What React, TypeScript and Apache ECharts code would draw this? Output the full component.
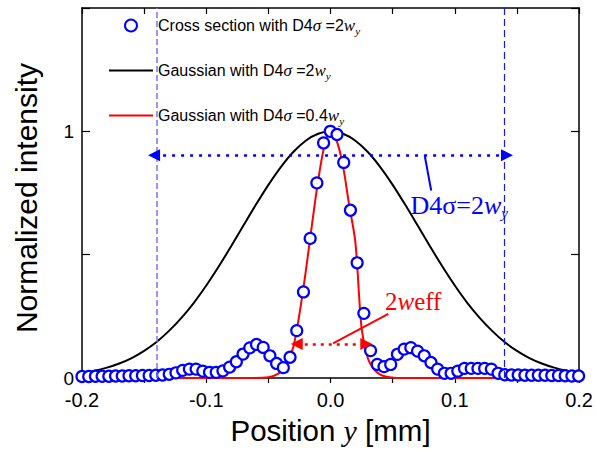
import React, { useEffect, useRef } from 'react';
import * as echarts from 'echarts';

// Measured cross section (blue circles)
const sampleX = [
  -0.2, -0.1946, -0.1892, -0.1838, -0.1784, -0.173, -0.1676, -0.1622, -0.1568, -0.1514,
  -0.146, -0.1406, -0.1352, -0.1298, -0.1244, -0.119, -0.1136, -0.1082, -0.1028, -0.0974,
  -0.092, -0.0866, -0.0812, -0.0758, -0.0704, -0.065, -0.0596, -0.0542, -0.0488, -0.0434,
  -0.038, -0.0326, -0.0272, -0.0218, -0.0164, -0.011, -0.0056, -0.0002, 0.0052, 0.0106,
  0.016, 0.0214, 0.0268, 0.0322, 0.0376, 0.043, 0.0484, 0.0538, 0.0592, 0.0646,
  0.07, 0.0754, 0.0808, 0.0862, 0.0916, 0.097, 0.1024, 0.1078, 0.1132, 0.1186,
  0.124, 0.1294, 0.1348, 0.1402, 0.1456, 0.151, 0.1564, 0.1618, 0.1672, 0.1726,
  0.178, 0.1834, 0.1888, 0.1942, 0.1996,
];
const sampleY = [
  0.006, 0.006, 0.007, 0.007, 0.007, 0.008, 0.008, 0.009, 0.009, 0.01,
  0.01, 0.011, 0.012, 0.015, 0.021, 0.031, 0.036, 0.036, 0.028, 0.023,
  0.023, 0.029, 0.044, 0.066, 0.097, 0.122, 0.136, 0.124, 0.09, 0.059,
  0.042, 0.084, 0.192, 0.349, 0.566, 0.791, 0.953, 1.0, 0.987, 0.874,
  0.68, 0.467, 0.262, 0.111, 0.055, 0.046, 0.055, 0.096, 0.117, 0.123,
  0.109, 0.09, 0.063, 0.036, 0.019, 0.019, 0.028, 0.039, 0.039, 0.039,
  0.039, 0.036, 0.019, 0.013, 0.012, 0.012, 0.011, 0.011, 0.011, 0.011,
  0.01, 0.01, 0.009, 0.008, 0.008,
];

// Gaussian with D4σ = 2w_y (black)
const wideX = [
  -0.2, -0.19, -0.18, -0.17, -0.16, -0.15, -0.14, -0.13, -0.12, -0.11,
  -0.1, -0.09, -0.08, -0.07, -0.06, -0.05, -0.04, -0.03, -0.02, -0.01,
  0, 0.01, 0.02, 0.03, 0.04, 0.05, 0.06, 0.07, 0.08, 0.09,
  0.1, 0.11, 0.12, 0.13, 0.14, 0.15, 0.16, 0.17, 0.18, 0.19, 0.2,
];
const wideY = [
  0.02, 0.029, 0.042, 0.059, 0.081, 0.11, 0.146, 0.191, 0.244, 0.305,
  0.375, 0.452, 0.534, 0.619, 0.703, 0.783, 0.855, 0.916, 0.962, 0.99,
  1.0, 0.99, 0.962, 0.916, 0.855, 0.783, 0.703, 0.619, 0.534, 0.452,
  0.375, 0.305, 0.244, 0.191, 0.146, 0.11, 0.081, 0.059, 0.042, 0.029, 0.02,
];

// Gaussian with D4σ = 0.4w_y (red)
const narrowX = [
  -0.2, -0.07, -0.055, -0.05, -0.045, -0.04, -0.035, -0.03, -0.025, -0.02,
  -0.015, -0.01, -0.005, 0, 0.005, 0.01, 0.015, 0.02, 0.025, 0.03,
  0.035, 0.04, 0.045, 0.05, 0.055, 0.07, 0.2,
];
const narrowY = [
  0, 0, 0.001, 0.003, 0.01, 0.025, 0.06, 0.125, 0.26, 0.43,
  0.62, 0.8, 0.94, 1.0, 0.96, 0.86, 0.7, 0.55, 0.2, 0.08,
  0.035, 0.014, 0.005, 0.002, 0, 0, 0,
];

const xTickLabels = ['-0.2', '-0.1', '0.0', '0.1', '0.2'];
const yTickLabels = ['0', '1'];

const NAME_SAMPLE = 'Cross section with D4σ=2wy';
const NAME_WIDE = 'Gaussian with D4σ=2wy';
const NAME_NARROW = 'Gaussian with D4σ=0.4wy';

const legendRich: Record<string, string> = {
  [NAME_SAMPLE]: '{n|Cross section with D4}{s|σ}{n| =2}{w|w}{y|y}',
  [NAME_WIDE]: '{n|Gaussian with D4}{s|σ}{n| =2}{w|w}{y|y}',
  [NAME_NARROW]: '{n|Gaussian with D4}{s|σ}{n| =0.4}{w|w}{y|y}',
};

const SANS = 'Liberation Sans, Arial, sans-serif';
const SERIF = 'Liberation Serif, Times New Roman, serif';
const LINE_ICON = 'path://M0,0 L48,0 L48,2 L0,2 Z';

const zip = (xs: number[], ys: number[]) => xs.map((x, i) => [x, ys[i]]);

export default function App() {
  const ref = useRef<HTMLDivElement>(null);
  useEffect(() => {
    document.body.style.margin = '0';
    if (!ref.current) return;
    const chart = echarts.init(ref.current, undefined, { renderer: 'svg' });
    const blue = '#0000ff';
    const red = '#ff0000';
    const arrowBlue = { color: blue, width: 2.5, type: [3, 6] as any };
    const arrowRed = { color: red, width: 2.5, type: [3, 5] as any };
    chart.setOption({
      animation: false,
      backgroundColor: '#ffffff',
      grid: { left: 82, right: 14, top: 8, bottom: 72 },
      legend: {
        left: 104,
        top: 12,
        orient: 'vertical',
        itemWidth: 44,
        itemHeight: 12,
        itemGap: 26,
        symbolKeepAspect: true,
        data: [
          { name: NAME_SAMPLE },
          { name: NAME_WIDE, icon: LINE_ICON },
          { name: NAME_NARROW, icon: LINE_ICON },
        ],
        formatter: (name: string) => legendRich[name] || name,
        textStyle: {
          fontSize: 16,
          fontFamily: SANS,
          color: '#000',
          rich: {
            n: { fontSize: 16, fontFamily: SANS, color: '#000' },
            s: { fontSize: 17, fontFamily: SERIF, fontStyle: 'italic', color: '#000' },
            w: { fontSize: 17, fontFamily: SERIF, fontStyle: 'italic', color: '#000' },
            y: { fontSize: 11, fontFamily: SERIF, fontStyle: 'italic', color: '#000', padding: [10, 0, 0, 0] },
          },
        },
      },
      xAxis: [
        {
          type: 'value',
          min: -0.2,
          max: 0.2,
          interval: 0.05,
          position: 'bottom',
          name: '{n|Position }{i|y}{n| [mm]}',
          nameLocation: 'middle',
          nameGap: 37,
          nameTextStyle: {
            rich: {
              n: { fontSize: 29.5, fontFamily: SANS, color: '#000' },
              i: { fontSize: 30, fontFamily: SERIF, fontStyle: 'italic', color: '#000' },
            },
          },
          axisLine: { show: true, onZero: false, lineStyle: { color: '#000', width: 1.5 } },
          axisTick: { show: true, inside: false, length: 5, lineStyle: { color: '#000', width: 1.2 } },
          splitLine: { show: false },
          axisLabel: {
            margin: 12,
            fontSize: 20,
            fontFamily: SANS,
            color: '#000',
            formatter: (v: number) => {
              const isMajor = Math.abs(v * 10 - Math.round(v * 10)) < 1e-6;
              const s = (Math.round(v * 10) / 10).toFixed(1);
              return isMajor && xTickLabels.includes(s) ? s : '';
            },
          },
        },
        {
          type: 'value',
          min: -0.2,
          max: 0.2,
          interval: 0.05,
          position: 'top',
          axisLine: { show: true, onZero: false, lineStyle: { color: '#000', width: 1.5 } },
          axisTick: { show: true, inside: true, length: 6, lineStyle: { color: '#000', width: 1.2 } },
          axisLabel: { show: false },
          splitLine: { show: false },
        },
      ],
      yAxis: [
        {
          type: 'value',
          min: 0,
          max: 1.5,
          interval: 0.5,
          position: 'left',
          name: 'Normalized intensity',
          nameLocation: 'middle',
          nameGap: 41,
          nameTextStyle: { fontSize: 30, fontFamily: SANS, color: '#000', padding: [0, 10, 0, 0] },
          axisLine: { show: true, onZero: false, lineStyle: { color: '#000', width: 1.5 } },
          axisTick: { show: true, inside: true, length: 8, lineStyle: { color: '#000', width: 1.2 } },
          splitLine: { show: false },
          axisLabel: {
            margin: 8,
            fontSize: 19,
            fontFamily: SANS,
            color: '#000',
            formatter: (v: number) => {
              const s = String(Math.round(v * 10) / 10);
              return yTickLabels.includes(s) ? s : '';
            },
          },
        },
        {
          type: 'value',
          min: 0,
          max: 1.5,
          interval: 0.5,
          position: 'right',
          axisLine: { show: true, onZero: false, lineStyle: { color: '#000', width: 1.5 } },
          axisTick: { show: true, inside: true, length: 8, lineStyle: { color: '#000', width: 1.2 } },
          axisLabel: { show: false },
          splitLine: { show: false },
        },
      ],
      series: [
        {
          name: NAME_WIDE,
          type: 'line',
          data: zip(wideX, wideY),
          symbol: 'none',
          smooth: 0.3,
          lineStyle: { color: '#000', width: 2 },
          itemStyle: { color: '#000' },
          z: 2,
          markLine: {
            silent: true,
            symbol: ['none', 'none'],
            label: { show: false },
            data: [
              { xAxis: -0.1435, lineStyle: { color: '#7575ff', width: 1.5, type: [6, 3] } },
              { xAxis: 0.1435, lineStyle: { color: '#1a1ae6', width: 1.2, type: [7, 4] } },
              [
                { coord: [-0.142, 0.903], symbol: 'triangle', symbolSize: 12, lineStyle: arrowBlue },
                { coord: [0.142, 0.903], symbol: 'triangle', symbolSize: 12, lineStyle: arrowBlue },
              ],
              [
                { coord: [0.0757, 0.903], lineStyle: { color: blue, width: 2, type: 'solid' } },
                { coord: [0.081, 0.76], lineStyle: { color: blue, width: 2, type: 'solid' } },
              ],
            ],
          },
          markPoint: {
            silent: true,
            symbol: 'circle',
            symbolSize: 1,
            itemStyle: { color: 'rgba(0,0,0,0)' },
            data: [
              {
                coord: [0.1035, 0.7],
                label: {
                  show: true,
                  position: 'inside',
                  formatter: '{a|D4σ=2}{b|w}{c|y}',
                  rich: {
                    a: { fontSize: 26, fontFamily: SERIF, color: blue },
                    b: { fontSize: 26, fontFamily: SERIF, fontStyle: 'italic', color: blue },
                    c: { fontSize: 15, fontFamily: SERIF, fontStyle: 'italic', color: blue, padding: [16, 0, 0, 0] },
                  },
                },
              },
            ],
          },
        },
        {
          name: NAME_NARROW,
          type: 'line',
          data: zip(narrowX, narrowY),
          symbol: 'none',
          smooth: 0.3,
          lineStyle: { color: red, width: 2 },
          itemStyle: { color: red },
          z: 3,
          markLine: {
            silent: true,
            symbol: ['none', 'none'],
            label: { show: false },
            data: [
              [
                { coord: [-0.0272, 0.138], symbol: 'triangle', symbolSize: 12, lineStyle: arrowRed },
                { coord: [0.0288, 0.138], symbol: 'triangle', symbolSize: 12, lineStyle: arrowRed },
              ],
              [
                { coord: [0.002, 0.14], lineStyle: { color: red, width: 2, type: 'solid' } },
                { coord: [0.0465, 0.26], lineStyle: { color: red, width: 2, type: 'solid' } },
              ],
            ],
          },
          markPoint: {
            silent: true,
            symbol: 'circle',
            symbolSize: 1,
            itemStyle: { color: 'rgba(0,0,0,0)' },
            data: [
              {
                coord: [0.0665, 0.31],
                label: {
                  show: true,
                  position: 'inside',
                  formatter: '{a|2}{b|w}{a|eff}',
                  rich: {
                    a: { fontSize: 25, fontFamily: SERIF, color: red },
                    b: { fontSize: 25, fontFamily: SERIF, fontStyle: 'italic', color: red },
                  },
                },
              },
            ],
          },
        },
        {
          name: NAME_SAMPLE,
          type: 'scatter',
          data: zip(sampleX, sampleY),
          symbol: 'circle',
          symbolSize: 11,
          clip: true,
          itemStyle: { color: '#ffffff', borderColor: blue, borderWidth: 2.2, opacity: 1 },
          z: 4,
        },
      ],
    });
    return () => chart.dispose();
  }, []);
  return <div ref={ref} style={{ width: 596, height: 450 }} />;
}
